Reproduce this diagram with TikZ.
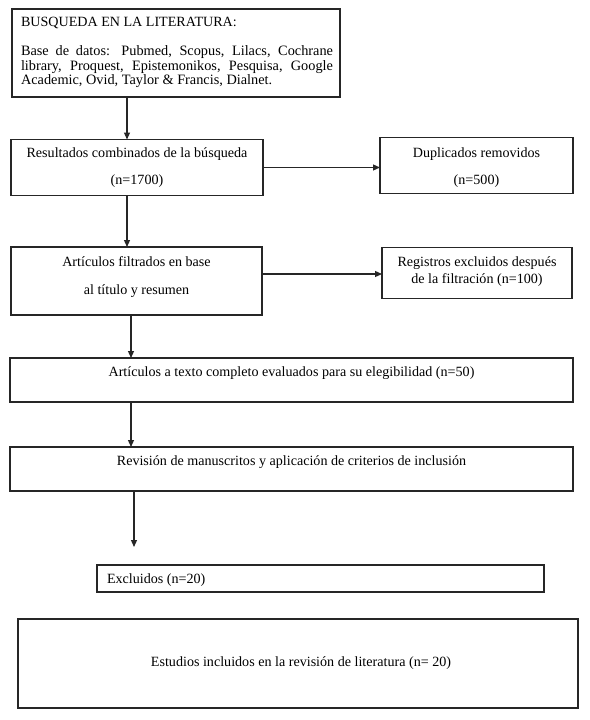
\documentclass[tikz,border=0pt]{standalone}
\usepackage{fontspec}
\setmainfont{Liberation Serif}
\usetikzlibrary{arrows.meta}
\tikzset{
  box/.style={draw=black!85, line width=1.2pt, inner sep=0pt, outer sep=0pt, fill=white},
  txt/.style={inner sep=0pt, outer sep=0pt, anchor=base, font=\fontsize{14.1}{16}\selectfont},
  txtl/.style={txt, anchor=base west},
  bodytxt/.style={txtl, font=\fontsize{14.3}{16}\selectfont},
  arr/.style={draw=black!85, line width=1.2pt, -{Triangle[length=7pt,width=6pt]}},
}
\begin{document}
\begin{tikzpicture}[x=1pt,y=-1pt]
\useasboundingbox[fill=white] (0,0) rectangle (589,720);
% boxes
\node[box, minimum width=328pt, minimum height=88pt] (b1) at (176,53) {};
\node[box, minimum width=252pt, minimum height=56pt] (b2) at (137,167.5) {};
\node[box, minimum width=193pt, minimum height=56pt] (dup) at (476.5,165.5) {};
\node[box, minimum width=251pt, minimum height=68pt] (b3) at (136.5,281) {};
\node[box, minimum width=190pt, minimum height=51pt] (reg) at (477,273) {};
\node[box, minimum width=563pt, minimum height=44pt] (b4) at (291.5,380) {};
\node[box, minimum width=563pt, minimum height=44pt] (b5) at (291.5,469) {};
\node[box, minimum width=447pt, minimum height=27pt] (exc) at (320.5,578.5) {};
\node[box, minimum width=560pt, minimum height=89pt] (fin) at (298,663.5) {};
% texts
\node[txtl] (t1) at (21,27) {BUSQUEDA EN LA LITERATURA:};
\node[bodytxt] (t1a) at (21,55) {\makebox[312pt][s]{Base de datos: Pubmed, Scopus, Lilacs, Cochrane}};
\node[bodytxt] (t1b) at (21,70) {\makebox[312pt][s]{library, Proquest, Epistemonikos, Pesquisa, Google}};
\node[bodytxt] (t1c) at (21,84) {Academic, Ovid, Taylor \& Francis, Dialnet.};
\node[txt] (t2a) at (137,157) {Resultados combinados de la búsqueda};
\node[txt] (t2b) at (137,184) {(n=1700)};
\node[txt] (td1) at (476.5,157) {Duplicados removidos};
\node[txt] (td2) at (476.5,184) {(n=500)};
\node[txt] (t3a) at (136.5,266) {Artículos filtrados en base};
\node[txt] (t3b) at (136.5,294) {al título y resumen};
\node[txt] (tr1) at (477,266) {Registros excluidos después};
\node[txt] (tr2) at (477,283) {de la filtración (n=100)};
\node[txt] (t4) at (291.5,376) {Artículos a texto completo evaluados para su elegibilidad (n=50)};
\node[txt] (t5) at (291.5,465) {Revisión de manuscritos y aplicación de criterios de inclusión};
\node[txtl] (te) at (107,583) {Excluidos (n=20)};
\node[txt] (tf) at (301,666) {Estudios incluidos en la revisión de literatura (n= 20)};
% connectors
\coordinate (x1) at (127,0);
\coordinate (x2) at (131,0);
\coordinate (x3) at (134,0);
\coordinate (end5) at (134,547);
\coordinate (y3) at (0,274);
\draw[arr] (b1.south -| x1) -- (b2.north -| x1);
\draw[arr] (b2.east) -- (b2.east -| dup.west);
\draw[arr] (b2.south -| x1) -- (b3.north -| x1);
\draw[arr] (b3.east |- y3) -- (reg.west |- y3);
\draw[arr] (b3.south -| x2) -- (b4.north -| x2);
\draw[arr] (b4.south -| x2) -- (b5.north -| x2);
\draw[arr] (b5.south -| x3) -- (end5);
\end{tikzpicture}
\end{document}
